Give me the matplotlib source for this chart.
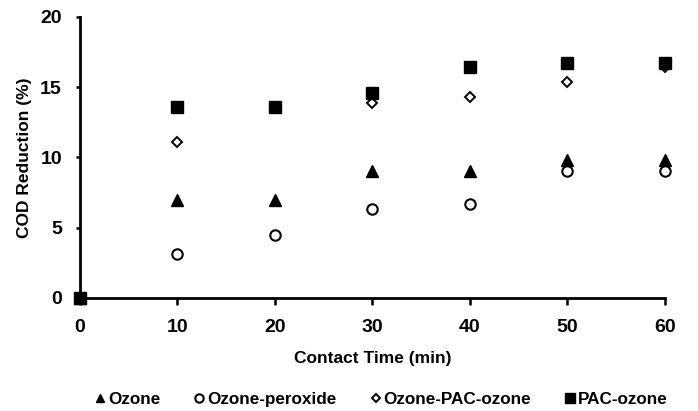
import matplotlib
matplotlib.use('Agg')
import matplotlib.pyplot as plt

plt.rcParams['font.family'] = ['Liberation Sans', 'DejaVu Sans']
plt.rcParams['font.weight'] = 'bold'

# ── Data ─────────────────────────────────────────────────────────────────────
time_min = [0, 10, 20, 30, 40, 50, 60]
ozone = [0, 7.0, 7.0, 9.0, 9.0, 9.8, 9.8]
ozone_peroxide = [0, 3.1, 4.5, 6.3, 6.7, 9.0, 9.0]
ozone_pac_ozone = [0, 11.1, 13.6, 13.9, 14.3, 15.4, 16.4]
pac_ozone = [0, 13.6, 13.6, 14.6, 16.4, 16.7, 16.7]

series = [
    ("Ozone", ozone, dict(marker='^', ms=8, mfc='black', mec='black')),
    ("Ozone-peroxide", ozone_peroxide, dict(marker='o', ms=7.5, mfc='white', mec='black', mew=1.5)),
    ("Ozone-PAC-ozone", ozone_pac_ozone, dict(marker='D', ms=5.2, mfc='white', mec='black', mew=1.4)),
    ("PAC-ozone", pac_ozone, dict(marker='s', ms=9, mfc='black', mec='black')),
]

fig = plt.figure(figsize=(6.98, 4.11), dpi=100)
ax = fig.add_axes([0.1146, 0.275, 0.838, 0.684])

for label, vals, style in series:
    ax.plot(time_min, vals, linestyle='none', label=label, clip_on=False, zorder=3, **style)

ax.set_xlim(0, 60)
ax.set_ylim(0, 20)
ax.set_xticks(range(0, 61, 10))
ax.set_yticks(range(0, 21, 5))
for side in ('top', 'right'):
    ax.spines[side].set_visible(False)
for side in ('left', 'bottom'):
    ax.spines[side].set_linewidth(2)
ax.tick_params(axis='x', direction='out', length=5, width=1.8, labelsize=14, pad=10)
ax.tick_params(axis='y', direction='out', length=3, width=1.8, labelsize=14, pad=10)

ax.set_xlabel("Contact Time (min)", fontsize=12.5, fontweight='bold', labelpad=11)
ax.set_ylabel("COD Reduction (%)", fontsize=12.5, fontweight='bold', labelpad=6)

leg = fig.legend(loc='center', bbox_to_anchor=(0.545, 0.027), ncol=4, frameon=False,
                 fontsize=12.3, handletextpad=0.05, columnspacing=1.9, handlelength=0.8,
                 markerscale=0.8)

fig.savefig("out.png", dpi=100, facecolor='white')
